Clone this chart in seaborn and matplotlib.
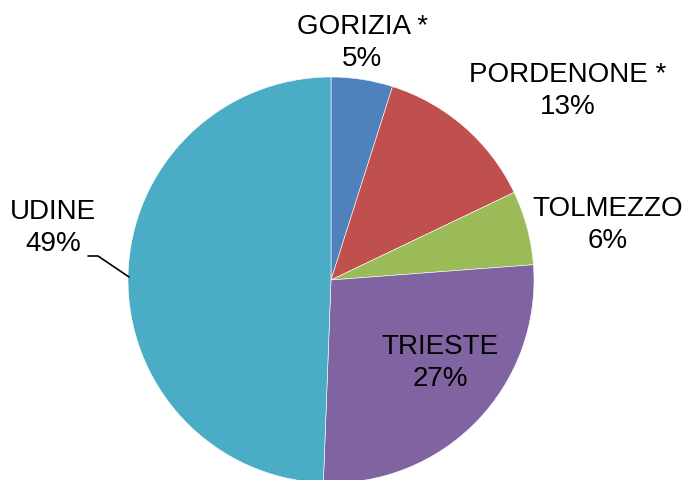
import matplotlib
matplotlib.use("Agg")
import matplotlib.pyplot as plt
import seaborn as sns

# data
sedi = ["GORIZIA *", "PORDENONE *", "TOLMEZZO", "TRIESTE", "UDINE"]
quote = [4.9, 13.0, 5.9, 26.8, 49.4]
colori = ["#4F81BD", "#C0504D", "#9BBB59", "#8064A2", "#4BACC6"]

sns.set_theme(style="white")
plt.rcParams["font.family"] = ["Liberation Sans", "DejaVu Sans"]

W, H = 688, 480
cx, cy, r = 331, 280, 203  # pie centre / radius in pixels

fig = plt.figure(figsize=(W / 100, H / 100), dpi=100)
ax = fig.add_axes([0, 0, 1, 1])
ax.pie(quote, colors=colori, startangle=90, counterclock=False,
       wedgeprops=dict(linewidth=0.4, edgecolor="white"))
ax.set_xlim(-cx / r, (W - cx) / r)
ax.set_ylim(-(H - cy) / r, cy / r)
ax.set_aspect("equal")
ax.axis("off")


def px(x, y):
    return (x - cx) / r, (cy - y) / r


# label anchors (pixel centres of each label block)
label_pos = [(362, 43), (568, 91), (608, 225), (440, 363), (53, 228)]
tot = sum(quote)
for nome, q, (x, y) in zip(sedi, quote, label_pos):
    ax.text(*px(x, y), f"{nome}\n{round(q / tot * 100)}%", ha="center", va="center",
            fontsize=20, linespacing=1.3, color="black")

# leader line for UDINE
lx, ly = zip(px(88, 256), px(98, 256), px(129, 277))
ax.plot(lx, ly, color="black", lw=1.2)

fig.savefig("out.png", dpi=100)
